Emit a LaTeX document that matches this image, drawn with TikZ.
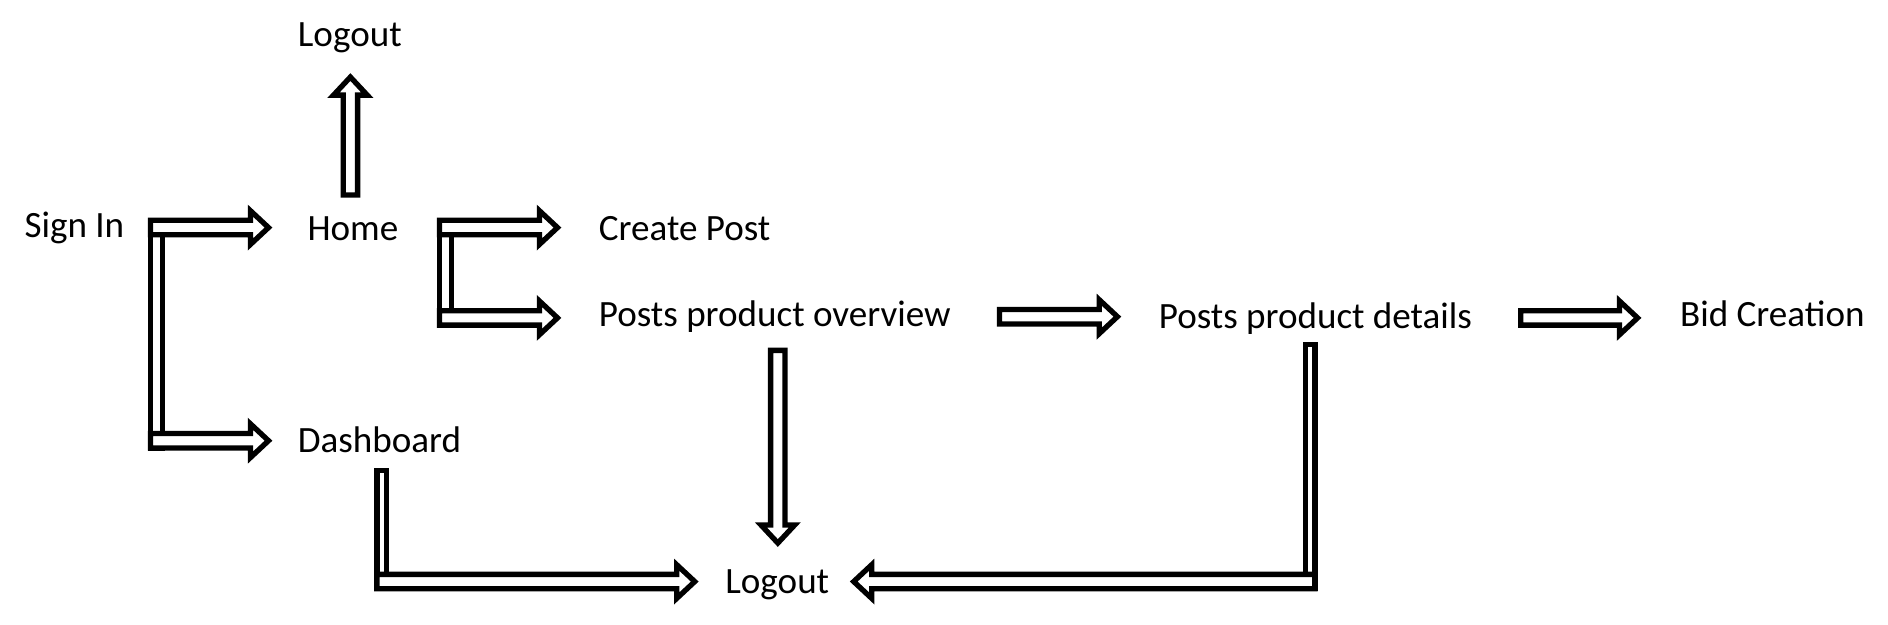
\documentclass[tikz,border=0pt]{standalone}
\usepackage{fontspec}
\setmainfont{Carlito}
\usepackage{tikz}
\usetikzlibrary{calc}

\begin{document}
\begin{tikzpicture}[x=0.5pt,y=-0.5pt]
    \newcommand\fleche[2]{\draw[fl] (#1) to (#2);}
    \newcommand\barre[2]{\draw[br] (#1) rectangle (#2);}
    \tikzstyle{etat}=[inner sep=0pt,anchor=base west,font=\fontsize{15.4}{18}\selectfont]
    \tikzstyle{br}=[draw,line width=2.2pt,fill=white,line join=miter]
    \tikzstyle{fl}=[br,to path={let \p1=(\tikztostart),\p2=(\tikztotarget),
        \n1={atan2(\y2-\y1,\x2-\x1)},\n2={veclen(\x2-\x1,\y2-\y1)} in
        ([shift={(\p1)},rotate=\n1]0pt,-3pt) -- ([shift={(\p1)},rotate=\n1]\n2-7.5pt,-3pt)
        -- ([shift={(\p1)},rotate=\n1]\n2-7.5pt,-7pt) -- ([shift={(\p1)},rotate=\n1]\n2,0pt)
        -- ([shift={(\p1)},rotate=\n1]\n2-7.5pt,7pt) -- ([shift={(\p1)},rotate=\n1]\n2-7.5pt,3pt)
        -- ([shift={(\p1)},rotate=\n1]0pt,3pt) -- cycle}]
    \useasboundingbox (0,0) rectangle (1568,519);
    \node[etat] at (20,197) (signin) {Sign In};
    \node[etat] at (255,200) (home) {Home};
    \node[etat] at (247,39) (lgh) {Logout};
    \node[etat] at (497,200) (cp) {Create Post};
    \node[etat] at (497,271) (ppo) {Posts product overview};
    \node[etat] at (962,273) (ppd) {Posts product details};
    \node[etat] at (1395,271) (bid) {Bid Creation};
    \node[etat] at (247,376) (dash) {Dashboard};
    \node[etat] at (602,493) (lgb) {Logout};
    % coudes
    \coordinate (s1) at (125,189); \coordinate (s2) at (125,366);
    \coordinate (h1) at (365,189); \coordinate (h2) at (365,264);
    \coordinate (d1) at (313,483); \coordinate (p1) at (1092,483);
    % pointes
    \coordinate (t1) at (223,189); \coordinate (t2) at (223,366);
    \coordinate (t3) at (463,189); \coordinate (t4) at (463,264);
    \coordinate (t5) at (577,483); \coordinate (t6) at (709,483);
    \coordinate (u0) at (291,162); \coordinate (u1) at (291,64);
    \coordinate (v0) at (646,291); \coordinate (v1) at (646,451);
    \coordinate (o0) at (830,263); \coordinate (o1) at (928,263);
    \coordinate (b0) at (1263,264); \coordinate (b1) at (1360,264);
    \barre{125,183}{135,372}\barre{365,183}{375,270} % barres seules
    \barre{313,391}{321,489}\barre{1084,286}{1092,489}
    \fleche{s1}{t1}\fleche{s2}{t2}\fleche{h1}{t3}\fleche{h2}{t4}
    \fleche{u0}{u1}\fleche{v0}{v1}\fleche{o0}{o1}\fleche{b0}{b1}
    \fleche{d1}{t5}\fleche{p1}{t6}
\end{tikzpicture}
\end{document}
